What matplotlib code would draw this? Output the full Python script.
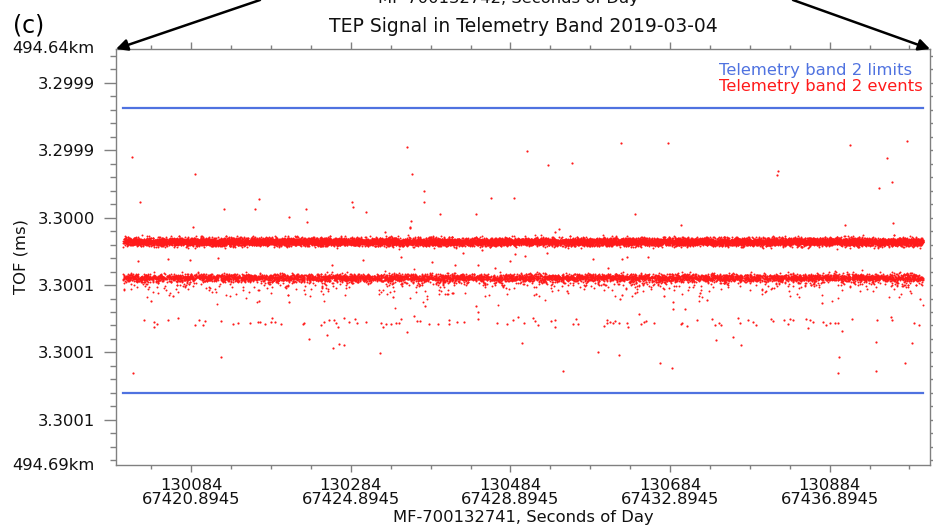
import matplotlib.pyplot as plt
import numpy as np
from matplotlib.ticker import FixedLocator, FixedFormatter

plt.rcParams['font.family'] = ['DejaVu Sans']
plt.rcParams['font.size'] = 11.8

# x axis: seconds of day, with shot counter on the first label line
tick_sod = [67420.8945, 67424.8945, 67428.8945, 67432.8945, 67436.8945]
tick_shot = ['130084', '130284', '130484', '130684', '130884']
span_sod = [67419.19, 67439.24]

# y axis: TOF as offset from 3.3 ms, in ns
limit_ns = [-70.6, 162.4]
ytick_ns = [-91.6, -36.35, 18.9, 74.15, 129.4, 184.65]
ytick_labels = ['3.2999', '3.2999', '3.3000', '3.3001', '3.3001', '3.3001']
range_labels = ['494.64km', '494.69km']

# the two dense event bands (centre, core spread, tail scale in ns; counts)
band_center_ns = [38.7, 68.0]
band_sigma_ns = [1.6, 1.5]
band_tail_ns = [0.0, 4.0]
band_core_n = [12000, 5000]
band_tail_n = [0, 1100]

# stray events: [seconds of day, TOF offset ns]
upper_events = [
    [67419.40, -30.9], [67420.99, -17.0], [67419.62, 6.2], [67420.94, 26.4],
    [67421.71, 12.2], [67422.50, 12.2], [67422.60, 4.0], [67423.35, 18.7],
    [67423.77, 12.2], [67423.80, 22.3], [67424.92, 6.2], [67424.96, 10.5],
    [67425.27, 14.6], [67425.75, 31.0], [67426.30, -39.1], [67426.43, -17.0],
    [67426.74, -3.1], [67426.72, 6.4], [67426.40, 21.7], [67426.38, 26.9],
    [67427.14, 16.0], [67428.03, 16.0], [67428.42, 3.1], [67428.98, 3.1],
    [67429.30, -35.4], [67429.84, -23.9], [67430.45, -25.5], [67431.67, -41.9],
    [67432.84, -41.9], [67432.02, 15.8], [67430.11, 28.3], [67430.01, 30.5],
    [67433.18, 25.0], [67435.60, -19.5], [67435.58, -15.7], [67437.41, -40.8],
    [67438.83, -43.6], [67438.33, -29.9], [67438.47, -10.5], [67438.13, -5.1],
    [67437.28, 25.0], [67438.48, 23.1],
]
between_events = [
    [67426.38, 27.2], [67426.92, 55.1], [67427.51, 57.8], [67427.71, 48.2],
    [67428.09, 57.8], [67428.18, 45.5], [67428.51, 60.0], [67428.89, 54.5],
    [67429.01, 49.0], [67429.26, 50.2], [67429.80, 48.2], [67430.97, 53.1],
    [67431.35, 60.0], [67431.68, 53.1], [67431.81, 51.0], [67432.35, 51.0],
    [67426.15, 51.0], [67419.57, 54.5], [67420.32, 53.1], [67420.87, 53.9],
    [67421.57, 52.3], [67424.42, 57.8], [67425.21, 53.7],
]
tail_events = [
    [67419.89, 87.0], [67420.43, 83.2], [67422.59, 87.0], [67423.35, 88.3],
    [67425.94, 84.3], [67427.46, 81.0], [67426.75, 91.4], [67428.02, 91.1],
    [67428.07, 96.3], [67429.53, 81.6], [67430.32, 79.1], [67431.64, 85.9],
    [67431.69, 82.6], [67432.02, 80.5], [67432.75, 82.9], [67432.96, 88.1],
    [67432.98, 93.6], [67433.27, 94.1], [67433.65, 81.0], [67433.83, 86.5],
    [67436.71, 88.9], [67439.16, 85.9],
]
row_events = [
    [67419.70, 103.1], [67419.95, 104.5], [67420.05, 105.9], [67419.95, 108.6],
    [67420.31, 102.6], [67420.56, 101.5], [67420.99, 107.0], [67421.08, 102.9],
    [67421.18, 107.0], [67421.25, 103.4], [67421.64, 103.4], [67421.93, 106.4],
    [67422.06, 105.6], [67422.38, 105.6], [67422.56, 104.2], [67422.63, 104.2],
    [67422.75, 106.1], [67422.90, 104.8], [67422.91, 100.9], [67423.00, 104.8],
    [67423.15, 106.4], [67423.69, 106.4], [67423.73, 105.0], [67424.15, 107.0],
    [67424.23, 104.2], [67424.34, 103.1], [67424.48, 103.1], [67424.52, 105.6],
    [67424.57, 108.6], [67424.73, 100.9], [67424.86, 104.5], [67425.01, 102.3],
    [67425.04, 105.0], [67425.28, 104.5], [67425.65, 105.6], [67425.69, 108.6],
    [67425.78, 106.4], [67425.90, 105.9], [67426.03, 105.0], [67426.14, 101.8],
    [67426.11, 105.6], [67426.47, 99.6], [67426.55, 103.7], [67426.64, 103.4],
    [67426.85, 105.9], [67427.08, 105.9], [67427.36, 102.6], [67427.35, 105.9],
    [67427.56, 104.8], [67427.73, 104.2], [67428.09, 102.0], [67428.56, 105.6],
    [67428.80, 106.4], [67428.95, 103.1], [67429.08, 100.4],
    [67429.24, 105.0], [67429.47, 100.9], [67429.51, 103.9], [67429.59, 107.2],
    [67429.90, 103.9], [67430.00, 103.1], [67430.02, 108.9], [67430.47, 105.9],
    [67430.55, 102.3], [67430.60, 105.9], [67431.24, 108.0], [67431.32, 102.9],
    [67431.32, 105.6], [67431.39, 104.8], [67431.47, 105.0], [67431.52, 103.9],
    [67431.61, 105.3], [67431.81, 105.6], [67431.84, 108.3], [67432.12, 98.2],
    [67432.16, 105.9], [67432.24, 104.5], [67432.29, 103.7], [67432.50, 105.0],
    [67433.16, 106.1], [67433.20, 105.0], [67433.33, 107.5], [67433.58, 102.9],
    [67433.94, 101.8], [67434.02, 107.0], [67434.11, 105.6], [67434.16, 106.7],
    [67434.61, 101.5], [67434.65, 105.6], [67434.86, 102.6], [67434.98, 104.5],
    [67435.05, 106.7], [67435.42, 101.8], [67435.48, 103.7], [67435.76, 103.1],
    [67435.86, 105.9], [67435.90, 101.8], [67435.97, 102.6], [67436.29, 102.0],
    [67436.36, 109.7], [67436.40, 103.1], [67436.47, 104.8], [67436.74, 104.5],
    [67436.80, 106.7], [67436.90, 105.6], [67437.04, 105.6], [67437.11, 105.3],
    [67437.20, 111.9], [67437.46, 101.8], [67438.09, 103.1], [67438.43, 100.4],
    [67438.47, 102.9], [67439.01, 105.6], [67439.14, 107.2],
]
lower_events = [
    [67423.84, 118.2], [67424.30, 115.4], [67424.44, 125.5], [67424.59, 122.8],
    [67424.72, 123.1], [67426.30, 112.4], [67421.64, 132.9], [67425.63, 129.9],
    [67419.43, 146.3], [67429.19, 121.4], [67434.05, 119.5], [67434.48, 116.5],
    [67434.67, 123.6], [67438.05, 120.6], [67438.97, 121.7], [67431.08, 129.1],
    [67431.62, 131.8], [67432.64, 137.8], [67432.95, 141.9], [67437.14, 132.9],
    [67430.20, 144.6], [67437.11, 146.0], [67438.05, 144.4], [67438.78, 138.1],
]

BASE_MS = 3.3


def to_ms(ns):
    return BASE_MS + np.asarray(ns) * 1e-6


RED = '#ff1a1a'
BLUE = '#4f72e0'
GREY = '#808080'

fig = plt.figure(figsize=(9.33, 5.27), dpi=100)
ax = fig.add_axes([116 / 933, 1 - 465 / 527, 814 / 933, 416 / 527])

# dense bands: too many points to read one by one, so they are sampled
rng = np.random.default_rng(7)
for c, sd, tail, n_core, n_tail in zip(band_center_ns, band_sigma_ns, band_tail_ns,
                                       band_core_n, band_tail_n):
    x = rng.uniform(span_sod[0], span_sod[1], n_core)
    y = rng.normal(c, sd, n_core)
    ax.scatter(x, to_ms(y), s=2.0, c=RED, linewidths=0)
    if n_tail:
        xt = rng.uniform(span_sod[0], span_sod[1], n_tail)
        yt = c + rng.exponential(tail, n_tail)
        ax.scatter(xt, to_ms(yt), s=2.0, c=RED, linewidths=0)

for group in [upper_events, between_events, tail_events, row_events, lower_events]:
    arr = np.array(group)
    ax.scatter(arr[:, 0], to_ms(arr[:, 1]), s=2.5, c=RED, linewidths=0)

for lim in limit_ns:
    ax.plot(span_sod, to_ms([lim, lim]), color=BLUE, lw=1.6)

ax.set_xlim(67419.01, 67439.41)
ax.set_ylim(to_ms(221.6), to_ms(-119.2))

# ticks
ax.xaxis.set_major_locator(FixedLocator(tick_sod))
ax.xaxis.set_major_formatter(FixedFormatter(
    [f'{s}\n{t:.4f}' for s, t in zip(tick_shot, tick_sod)]))
ax.xaxis.set_minor_locator(FixedLocator(np.arange(67419.8945, 67439.5, 1.0)))
ax.yaxis.set_major_locator(FixedLocator(to_ms(ytick_ns)))
ax.yaxis.set_major_formatter(FixedFormatter(ytick_labels))
ax.yaxis.set_minor_locator(FixedLocator(to_ms(np.arange(-113.7, 221, 11.05))))

ax.tick_params(which='both', direction='out', top=True, right=True,
               color=GREY, width=1.0, labelcolor='#111111')
ax.tick_params(axis='y', which='major', length=9, pad=6)
ax.tick_params(axis='y', which='minor', length=4.5)
ax.tick_params(axis='x', which='major', length=5, pad=4)
ax.tick_params(axis='x', which='minor', length=3)
for lab in ax.get_xticklabels():
    lab.set_linespacing(1.0)
for sp in ax.spines.values():
    sp.set_color(GREY)
    sp.set_linewidth(1.0)

ax.text(-0.0258, 1.0, range_labels[0], transform=ax.transAxes,
        ha='right', va='center', color='#111111')
ax.text(-0.0258, 0.0, range_labels[1], transform=ax.transAxes,
        ha='right', va='center', color='#111111')

ax.set_ylabel('TOF (ms)', color='#111111')
ax.yaxis.set_label_coords(-0.108, 0.5)
ax.set_xlabel('MF-700132741, Seconds of Day', color='#111111')
ax.xaxis.set_label_coords(0.5, -0.108)

# legend text
ax.text(0.7408, 0.9495, 'Telemetry band 2 limits', transform=ax.transAxes,
        color=BLUE, ha='left', va='center')
ax.text(0.7408, 0.9087, 'Telemetry band 2 events', transform=ax.transAxes,
        color=RED, ha='left', va='center')

# title and panel annotations
fig.text(523 / 933, 1 - 26 / 527, 'TEP Signal in Telemetry Band 2019-03-04',
         ha='center', va='center', fontsize=13.5, color='#111111')
fig.text(29 / 933, 1 - 26 / 527, '(c)', ha='center', va='center', fontsize=17)
# x label of the panel above, only its lower edge shows
fig.text(508 / 933, 1 - 3 / 527, 'MF-700132742, Seconds of Day',
         ha='center', va='baseline', color='#111111')

arrow = dict(arrowstyle='-|>', color='k', lw=1.8, mutation_scale=17,
             shrinkA=0, shrinkB=0)
ax.annotate('', xy=(0, 1), xycoords='axes fraction', xytext=(260 / 933, 1.0),
            textcoords='figure fraction', arrowprops=arrow, annotation_clip=False)
ax.annotate('', xy=(1, 1), xycoords='axes fraction', xytext=(793 / 933, 1.0),
            textcoords='figure fraction', arrowprops=arrow, annotation_clip=False)

fig.savefig('out.png', dpi=100)
